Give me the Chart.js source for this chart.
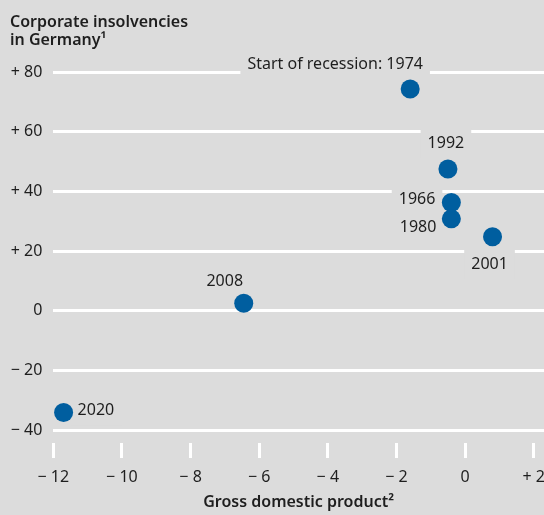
<!DOCTYPE html>
<html>
<head>
<meta charset="utf-8">
<script src="https://cdn.jsdelivr.net/npm/chart.js@4.4.0/dist/chart.umd.min.js"></script>
<style>
  html, body { margin: 0; padding: 0; background: #dcdcdc; }
  #grafico { display: block; }
</style>
</head>
<body>
<canvas id="grafico" width="544" height="515"></canvas>
<script>
// Datos
const anios = ['1966', '1974', '1980', '1992', '2001', '2008', '2020'];
const pib = [-0.4, -1.6, -0.4, -0.5, 0.8, -6.45, -11.7];
const insolvencias = [36.3, 74.3, 30.8, 47.5, 24.8, 2.5, -34.1];
const etiquetas = ['1966', 'Start of recession: 1974', '1980', '1992', '2001', '2008', '2020'];
const ticksX = [-12, -10, -8, -6, -4, -2, 0, 2];
const ticksY = [-40, -20, 0, 20, 40, 60, 80];

// Estilos
const fondo = '#dcdcdc';
const azul = '#005e9f';
const colorTexto = '#1e1e1e';
const fuente = '"Noto Sans", sans-serif';

// Posicion de cada etiqueta respecto a su punto
const posEtiquetas = {
  '1966': { dx: -16, dy: -3, align: 'right' },
  '1974': { dx: -75, dy: -25, align: 'center' },
  '1980': { dx: -15, dy: 9, align: 'right' },
  '1992': { dx: -2, dy: -26, align: 'center' },
  '2001': { dx: -3, dy: 28, align: 'center' },
  '2008': { dx: -19, dy: -22, align: 'center' },
  '2020': { dx: 14, dy: -2, align: 'left' }
};

function formatoSigno(v) {
  if (v > 0) return '+ ' + v;
  if (v < 0) return '\u2212 ' + Math.abs(v);
  return '0';
}

// Etiquetas con fondo gris que tapan las lineas de la grilla
const etiquetasPlugin = {
  id: 'etiquetas',
  beforeDatasetsDraw(chart) {
    const c = chart.ctx;
    const meta = chart.getDatasetMeta(0);
    c.save();
    c.font = '16px ' + fuente;
    c.textBaseline = 'middle';
    meta.data.forEach((pt, i) => {
      const p = posEtiquetas[anios[i]];
      const txt = etiquetas[i];
      const w = c.measureText(txt).width;
      const x = pt.x + p.dx;
      const y = pt.y + p.dy;
      const izq = p.align === 'center' ? x - w / 2 : p.align === 'right' ? x - w : x;
      c.fillStyle = fondo;
      c.fillRect(izq - 7, y - 15, w + 14, 30);
      c.fillStyle = colorTexto;
      c.textAlign = p.align;
      c.fillText(txt, x, y);
    });
    c.restore();
  }
};

const ctx = document.getElementById('grafico').getContext('2d');
const grafico = new Chart(ctx, {
  type: 'scatter',
  data: {
    datasets: [{
      data: pib.map((x, i) => ({ x: x, y: insolvencias[i] })),
      backgroundColor: azul,
      borderWidth: 0,
      pointRadius: 9.5,
      pointHoverRadius: 9.5,
      clip: false
    }]
  },
  options: {
    responsive: false,
    animation: false,
    devicePixelRatio: 1,
    layout: { autoPadding: false, padding: { left: 10, right: 0, top: 0, bottom: 0 } },
    plugins: {
      legend: { display: false },
      tooltip: { enabled: false },
      title: {
        display: true,
        text: ['Corporate insolvencies', 'in Germany\u00b9'],
        align: 'start',
        color: colorTexto,
        font: { family: fuente, size: 16, weight: '600', lineHeight: 1.1 },
        padding: { top: 14, bottom: 22.8 }
      }
    },
    scales: {
      x: {
        type: 'linear',
        min: -12,
        max: 2.3,
        afterBuildTicks: s => { s.ticks = ticksX.map(v => ({ value: v })); },
        afterFit: s => { s.height = 72; s.paddingLeft = 0; s.paddingRight = 0; },
        border: { display: false },
        grid: { drawOnChartArea: false, drawTicks: true, tickLength: 15, color: '#fff', lineWidth: 3 },
        ticks: { padding: 10, color: colorTexto, font: { family: fuente, size: 16 }, callback: v => formatoSigno(v), maxRotation: 0 },
        title: {
          display: true,
          text: 'Gross domestic product\u00b2',
          color: colorTexto,
          font: { family: fuente, size: 16, weight: '600' },
          padding: { top: 0, bottom: 3 }
        }
      },
      y: {
        min: -44.3,
        max: 80,
        afterBuildTicks: s => { s.ticks = ticksY.map(v => ({ value: v })); },
        afterFit: s => { s.width = 43.3; s.paddingTop = 0; s.paddingBottom = 0; },
        border: { display: false },
        grid: { color: '#fff', lineWidth: 3, drawTicks: false },
        ticks: { padding: 11, color: colorTexto, font: { family: fuente, size: 16 }, callback: v => formatoSigno(v) }
      }
    }
  },
  plugins: [etiquetasPlugin]
});
</script>
</body>
</html>
